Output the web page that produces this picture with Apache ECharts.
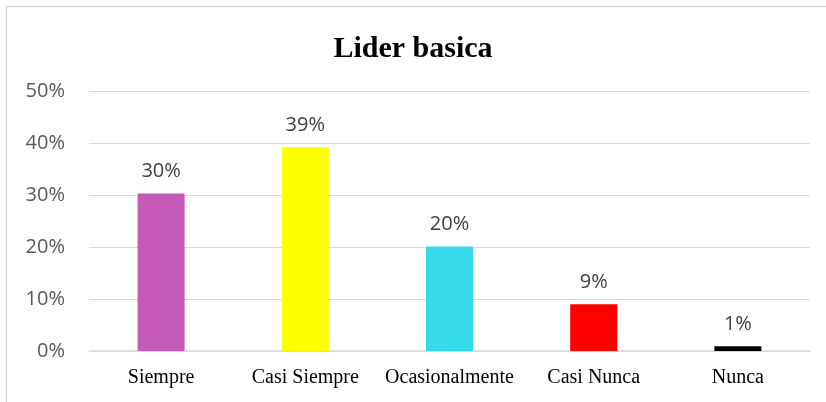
<!DOCTYPE html>
<html><head><meta charset="utf-8">
<script src="https://cdn.jsdelivr.net/npm/echarts@6/dist/echarts.min.js"></script>
<style>html,body{margin:0;padding:0;background:#fff}#c{width:826px;height:402px}</style>
</head><body><div id="c"></div>
<script>
const categories = ['Siempre', 'Casi Siempre', 'Ocasionalmente', 'Casi Nunca', 'Nunca'];
const values = [0.303, 0.392, 0.201, 0.090, 0.009];
const labels = ['30%', '39%', '20%', '9%', '1%'];
const colors = ['#C55AB9', '#FFFF00', '#36D9E9', '#FF0000', '#000000'];

const chart = echarts.init(document.getElementById('c'), null, {renderer: 'canvas'});
chart.setOption({
  animation: false,
  graphic: [{
    type: 'rect', left: 4, top: 4, silent: true, z: -1,
    shape: {width: 840, height: 420},
    style: {fill: 'none', stroke: '#d9d9d9', lineWidth: 1.5}
  }],
  title: {
    text: 'Lider basica', left: 'center', top: 29,
    textStyle: {fontFamily: 'Liberation Serif', fontWeight: 'bold', fontSize: 30, color: '#000'}
  },
  grid: {left: 89, right: 16, top: 91, bottom: 51, containLabel: false},
  xAxis: {
    type: 'category', data: categories,
    axisLine: {lineStyle: {color: '#d9d9d9', width: 1.5}},
    axisTick: {show: false},
    axisLabel: {interval: 0, hideOverlap: false, fontFamily: 'Liberation Serif', fontSize: 20, color: '#000', margin: 17}
  },
  yAxis: {
    type: 'value', min: 0, max: 0.5, interval: 0.1,
    axisLine: {show: false}, axisTick: {show: false},
    splitLine: {lineStyle: {color: '#d9d9d9', width: 1}},
    axisLabel: {
      fontFamily: 'Open Sans', fontSize: 20, color: '#595959', margin: 24,
      formatter: v => Math.round(v * 100) + '%'
    }
  },
  series: [{
    type: 'bar', barWidth: 47,
    data: values.map((v, i) => ({value: v, itemStyle: {color: colors[i]}})),
    label: {
      show: true, position: 'top', distance: 12,
      fontFamily: 'Open Sans', fontSize: 20, color: '#404040',
      formatter: p => labels[p.dataIndex]
    }
  }]
});
</script></body></html>
